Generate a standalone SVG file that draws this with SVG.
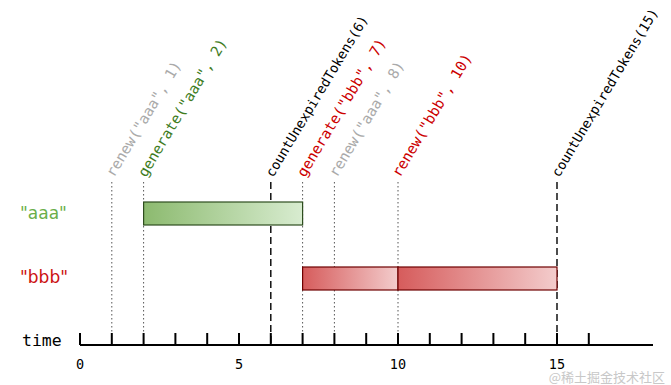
<svg xmlns="http://www.w3.org/2000/svg" width="671" height="385" viewBox="0 0 671 385">
<style>
.mono{font-family:"DejaVu Sans Mono","Liberation Mono",monospace}
.lbl{font-size:14.6px}
.cnt{font-size:13.4px;fill:#000}
.gray{fill:#aaaaaa}
.green{fill:#3f7d1f}
.red{fill:#cc0000}
.dot{stroke:#555;stroke-width:1;stroke-dasharray:1.5,2.5;fill:none}
.dash{stroke:#000;stroke-width:1.4;stroke-dasharray:7,4;fill:none}
.axis{stroke:#000;stroke-width:2;fill:none}
.lane{font-family:"DejaVu Sans",sans-serif;font-size:17px}
</style>
<defs>
<linearGradient id="gG" x1="0" x2="1" y1="0" y2="0"><stop offset="0" stop-color="#8cba6f"/><stop offset="1" stop-color="#d8ecd0"/></linearGradient>
<linearGradient id="gR" x1="0" x2="1" y1="0" y2="0"><stop offset="0" stop-color="#d65c5c"/><stop offset="1" stop-color="#f3cccc"/></linearGradient>
</defs>
<rect width="671" height="385" fill="#fff"/>
<g id="connectors">
<line class="dot" x1="111.8" y1="182" x2="111.8" y2="333"/>
<line class="dot" x1="143.6" y1="182" x2="143.6" y2="333"/>
<line class="dash" x1="270.8" y1="182" x2="270.8" y2="345"/>
<line class="dot" x1="302.6" y1="182" x2="302.6" y2="333"/>
<line class="dot" x1="334.4" y1="182" x2="334.4" y2="333"/>
<line class="dot" x1="398" y1="182" x2="398" y2="333"/>
<line class="dash" x1="557" y1="182" x2="557" y2="345"/>
</g>
<g id="lane-aaa">
<text class="lane" x="20" y="219" fill="#6aae4a">"aaa"</text>
<rect x="143.6" y="202" width="159" height="23" fill="url(#gG)" stroke="#2e4d1e" stroke-width="1.2"/>
</g>
<g id="lane-bbb">
<text class="lane" x="20" y="283" fill="#cc1111">"bbb"</text>
<rect x="302.6" y="267" width="95.4" height="23" fill="url(#gR)" stroke="#6e0000" stroke-width="1.2"/>
<rect x="398" y="267" width="159" height="23" fill="url(#gR)" stroke="#6e0000" stroke-width="1.2"/>
</g>
<g id="events">
<text class="mono lbl gray" transform="translate(114,178) rotate(-59)">renew("aaa", 1)</text>
<text class="mono lbl green" transform="translate(146,178) rotate(-59)">generate("aaa", 2)</text>
<text class="mono cnt" transform="translate(273,178) rotate(-59)">countUnexpiredTokens(6)</text>
<text class="mono lbl red" transform="translate(305,178) rotate(-59)">generate("bbb", 7)</text>
<text class="mono lbl gray" transform="translate(337,178) rotate(-59)">renew("aaa", 8)</text>
<text class="mono lbl red" transform="translate(400,178) rotate(-59)">renew("bbb", 10)</text>
<text class="mono cnt" transform="translate(559,178) rotate(-59)">countUnexpiredTokens(15)</text>
</g>
<g id="axis">
<text class="mono" x="22" y="346" font-size="16.5">time</text>
<path class="axis" d="M80,345 H653 M80,333 V345 M111.8,333 V345 M143.6,333 V345 M175.4,333 V345 M207.2,333 V345 M239,333 V345 M270.8,333 V345 M302.6,333 V345 M334.4,333 V345 M366.2,333 V345 M398,333 V345 M429.8,333 V345 M461.6,333 V345 M493.4,333 V345 M525.2,333 V345 M557,333 V345 M588.8,333 V345"/>
<g class="mono" font-size="13.5" text-anchor="middle">
<text x="80" y="369">0</text>
<text x="239" y="369">5</text>
<text x="398" y="369">10</text>
<text x="557" y="369">15</text>
</g>
</g>
<text x="665" y="382" text-anchor="end" font-family="'Noto Sans CJK SC',sans-serif" font-size="13" fill="#c8c8c8">@稀土掘金技术社区</text>
</svg>
